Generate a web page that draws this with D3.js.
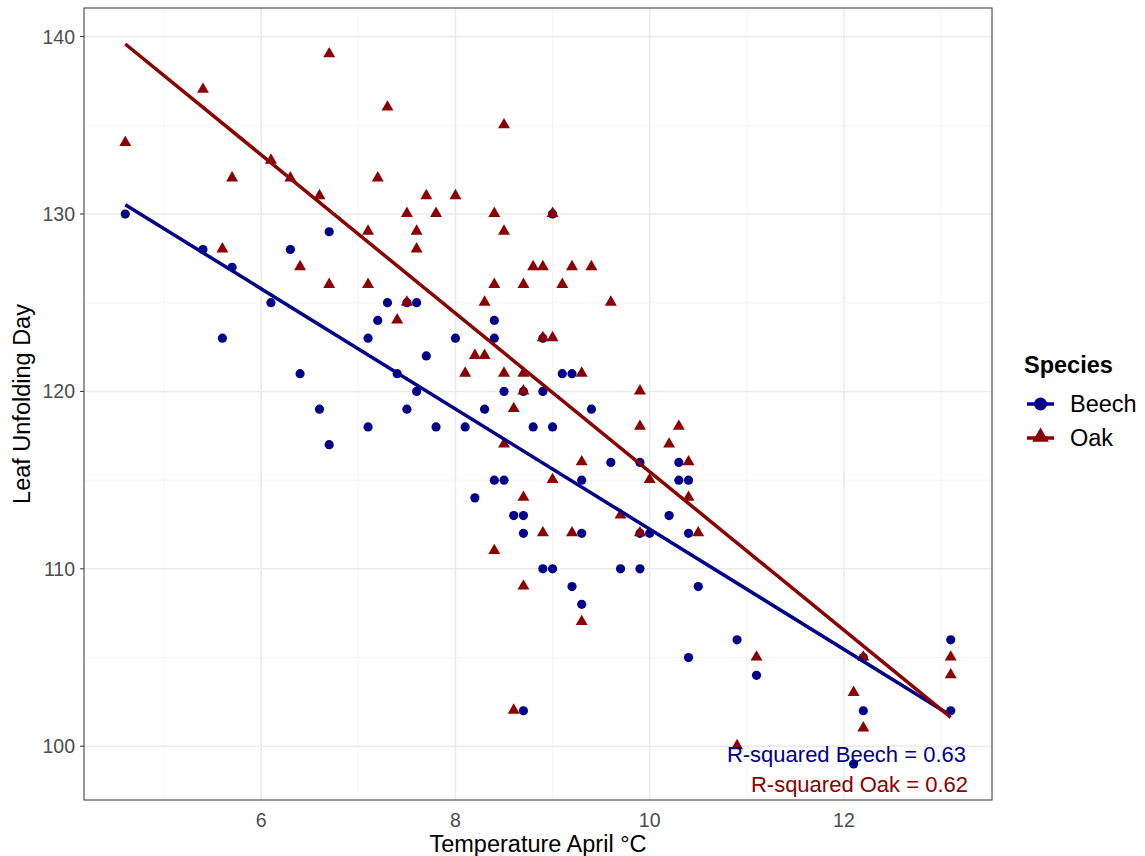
<!DOCTYPE html>
<meta charset="utf-8">
<head>
<style>
  body { margin: 0; background: #fff; }
  text { font-family: "Liberation Sans", Arial, sans-serif; }
  .grid-major { stroke: #ebebeb; stroke-width: 1.5px; }
  .grid-minor { stroke: #f2f2f2; stroke-width: 0.8px; }
  .tick-label { fill: #4d4d4d; font-size: 19.5px; }
  .axis-title { fill: #000; font-size: 23.5px; }
</style>
</head>
<body>
<div id="content"></div>
<script src="https://d3js.org/d3.v7.min.js"></script>
<script>

// Beech: April temperature and leaf unfolding day
var beechTemp = [4.6,5.4,5.7,6.3,6.7,9.0,6.1,7.3,7.2,7.1,5.6,6.4,6.6,7.1,6.7,7.6,8.4,8.0,8.4,8.9,
  7.7,7.4,9.1,9.2,7.6,8.5,8.7,8.9,7.5,8.3,9.4,7.8,8.1,8.8,9.0,9.6,9.9,10.3,8.4,8.5,
  9.3,10.3,10.4,8.2,8.6,8.7,10.2,8.7,9.3,9.9,10.0,10.4,8.9,9.0,9.7,9.9,9.2,9.3,10.4,8.7,
  10.5,10.9,11.1,12.1,12.2,13.1,13.1,7.5,12.2];
var beechDay = [130,128,127,128,129,130,125,125,124,123,123,121,119,118,117,125,124,123,123,123,
  122,121,121,121,120,120,120,120,119,119,119,118,118,118,118,116,116,116,115,115,
  115,115,115,114,113,113,113,112,112,112,112,112,110,110,110,110,109,108,105,102,
  109,106,104,99,102,106,102,125,105];

// Oak
var oakTemp = [4.6,5.4,6.7,7.3,5.7,6.1,6.3,6.6,7.2,7.1,5.6,6.4,8.5,7.7,8.0,7.5,7.8,8.4,9.0,7.6,
  8.5,7.6,8.8,8.9,9.2,9.4,6.7,7.1,8.4,8.7,9.1,7.5,8.3,9.6,7.4,8.9,9.0,8.2,8.3,8.1,
  8.5,8.7,9.3,8.7,9.9,8.6,9.9,10.3,8.5,10.2,9.3,10.4,9.0,10.0,8.7,10.4,9.7,8.9,9.2,9.9,
  10.5,8.4,8.7,9.3,8.6,11.1,10.9,12.1,12.2,12.2,13.1,13.1];
var oakDay = [134,137,139,136,132,133,132,131,132,129,128,127,135,131,131,130,130,130,130,129,
  129,128,127,127,127,127,126,126,126,126,126,125,125,125,124,123,123,122,122,121,
  121,121,121,120,120,119,118,118,117,117,116,116,115,115,114,114,113,112,112,112,
  112,111,109,107,102,105,100,103,105,101,105,104];

var species = ["Beech", "Oak"];
var colors = ["#00008b", "#8b0000"];
var rsqLabels = ["R-squared Beech = 0.63", "R-squared Oak = 0.62"];

var xTicks = [6, 8, 10, 12];
var xMinor = [5, 7, 9, 11, 13];
var yTicks = [100, 110, 120, 130, 140];
var yMinor = [105, 115, 125, 135];

function fit(xs, ys) {
  var mx = d3.mean(xs), my = d3.mean(ys);
  var sxy = 0, sxx = 0;
  for (var i = 0; i < xs.length; i++) {
    sxy += (xs[i] - mx) * (ys[i] - my);
    sxx += (xs[i] - mx) * (xs[i] - mx);
  }
  var b = sxy / sxx;
  return { a: my - b * mx, b: b };
}

var groups = [
  { name: species[0], temp: beechTemp, day: beechDay, color: colors[0] },
  { name: species[1], temp: oakTemp, day: oakDay, color: colors[1] }
];
groups.forEach(function(g) {
  g.fit = fit(g.temp, g.day);
  g.pts = g.temp.map(function(t, i) { return { t: t, d: g.day[i] }; });
  var ext = d3.extent(g.temp);
  g.line = ext.map(function(t) { return { t: t, d: g.fit.a + g.fit.b * t }; });
});

var W = 1145, H = 856;
var pLeft = 84, pRight = 992, pTop = 8, pBottom = 800;

var allT = beechTemp.concat(oakTemp);
var allD = beechDay.concat(oakDay);
groups.forEach(function(g) { g.line.forEach(function(p) { allD.push(p.d); }); });
var xe = d3.extent(allT), ye = d3.extent(allD);
var xp = (xe[1] - xe[0]) * 0.05, yp = (ye[1] - ye[0]) * 0.05;

var x = d3.scaleLinear().domain([xe[0] - xp, xe[1] + xp]).range([pLeft, pRight]);
var y = d3.scaleLinear().domain([ye[0] - yp, ye[1] + yp]).range([pBottom, pTop]);

var svg = d3.select("#content").append("svg")
  .attr("width", W).attr("height", H);

// grid
svg.selectAll(".xminor").data(xMinor).enter().append("line")
  .attr("class", "grid-minor")
  .attr("x1", function(d) { return x(d); }).attr("x2", function(d) { return x(d); })
  .attr("y1", pTop).attr("y2", pBottom);
svg.selectAll(".yminor").data(yMinor).enter().append("line")
  .attr("class", "grid-minor")
  .attr("y1", function(d) { return y(d); }).attr("y2", function(d) { return y(d); })
  .attr("x1", pLeft).attr("x2", pRight);
svg.selectAll(".xmajor").data(xTicks).enter().append("line")
  .attr("class", "grid-major")
  .attr("x1", function(d) { return x(d); }).attr("x2", function(d) { return x(d); })
  .attr("y1", pTop).attr("y2", pBottom);
svg.selectAll(".ymajor").data(yTicks).enter().append("line")
  .attr("class", "grid-major")
  .attr("y1", function(d) { return y(d); }).attr("y2", function(d) { return y(d); })
  .attr("x1", pLeft).attr("x2", pRight);

// points
var tri = d3.symbol().type(d3.symbolTriangle).size(62);
groups.forEach(function(g, gi) {
  if (gi === 0) {
    svg.append("g").selectAll("circle").data(g.pts).enter().append("circle")
      .attr("cx", function(d) { return x(d.t); })
      .attr("cy", function(d) { return y(d.d); })
      .attr("r", 4.6)
      .attr("fill", g.color);
  } else {
    svg.append("g").selectAll("path").data(g.pts).enter().append("path")
      .attr("d", tri)
      .attr("transform", function(d) { return "translate(" + x(d.t) + "," + (y(d.d) - 0.5) + ")"; })
      .attr("fill", g.color);
  }
});

// regression lines
var lineGen = d3.line().x(function(d) { return x(d.t); }).y(function(d) { return y(d.d); });
groups.forEach(function(g) {
  svg.append("path")
    .datum(g.line)
    .attr("d", lineGen)
    .attr("fill", "none")
    .attr("stroke", g.color)
    .attr("stroke-width", 3.5);
});

// R-squared labels
svg.selectAll(".rsq").data(rsqLabels).enter().append("text")
  .attr("x", function(d, i) { return i === 0 ? 966 : 968; })
  .attr("y", function(d, i) { return 762 + i * 30; })
  .attr("text-anchor", "end")
  .style("font-size", "22px")
  .attr("fill", function(d, i) { return colors[i]; })
  .text(function(d) { return d; });

// panel border
svg.append("rect")
  .attr("x", pLeft).attr("y", pTop)
  .attr("width", pRight - pLeft).attr("height", pBottom - pTop)
  .attr("fill", "none").attr("stroke", "#333").attr("stroke-width", 1);

// y ticks + labels
svg.selectAll(".ytick").data(yTicks).enter().append("line")
  .attr("x1", pLeft - 4).attr("x2", pLeft)
  .attr("y1", function(d) { return y(d); }).attr("y2", function(d) { return y(d); })
  .attr("stroke", "#333");
svg.selectAll(".ylab").data(yTicks).enter().append("text")
  .attr("class", "tick-label")
  .attr("x", 75).attr("y", function(d) { return y(d) + 7; })
  .attr("text-anchor", "end")
  .text(function(d) { return d; });
svg.selectAll(".xlab").data(xTicks).enter().append("text")
  .attr("class", "tick-label")
  .attr("x", function(d) { return x(d); }).attr("y", 827)
  .attr("text-anchor", "middle")
  .text(function(d) { return d; });

// axis titles
svg.append("text").attr("class", "axis-title")
  .attr("x", (pLeft + pRight) / 2).attr("y", 852)
  .attr("text-anchor", "middle")
  .text("Temperature April °C");
svg.append("text").attr("class", "axis-title")
  .attr("transform", "translate(30," + ((pTop + pBottom) / 2) + ") rotate(-90)")
  .attr("text-anchor", "middle")
  .text("Leaf Unfolding Day");

// legend
var lg = svg.append("g").attr("transform", "translate(1024,0)");
lg.append("text").attr("x", 0).attr("y", 373)
  .style("font-size", "23.5px").style("font-weight", "bold")
  .text("Species");
groups.forEach(function(g, i) {
  var cy = 404 + i * 34;
  lg.append("line").attr("x1", 3).attr("x2", 30).attr("y1", cy).attr("y2", cy)
    .attr("stroke", g.color).attr("stroke-width", 3.5);
  if (i === 0) {
    lg.append("circle").attr("cx", 16.5).attr("cy", cy).attr("r", 6.5).attr("fill", g.color);
  } else {
    lg.append("path").attr("d", d3.symbol().type(d3.symbolTriangle).size(120))
      .attr("transform", "translate(16.5," + (cy - 1) + ")").attr("fill", g.color);
  }
  lg.append("text").attr("x", 46).attr("y", cy + 8)
    .style("font-size", "23.5px")
    .text(g.name);
});

</script>
</body>
</html>
